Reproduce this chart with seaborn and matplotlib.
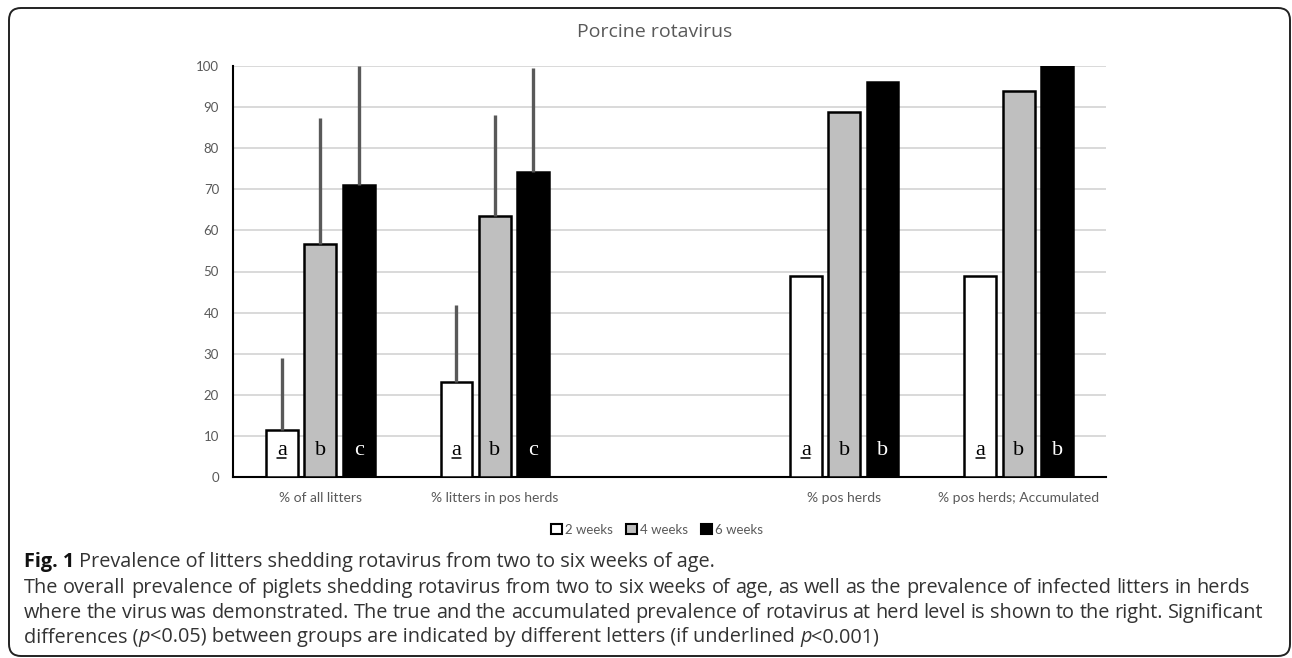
import matplotlib
matplotlib.use("Agg")
import matplotlib.pyplot as plt
import seaborn as sns
import pandas as pd
from matplotlib.patches import FancyBboxPatch, Patch
from matplotlib.lines import Line2D
from matplotlib.transforms import IdentityTransform

# ---------------- data ----------------
categories = ["% of all litters", "% litters in pos herds", " ", "% pos herds", "% pos herds; Accumulated"]
data_cats = ["% of all litters", "% litters in pos herds", "% pos herds", "% pos herds; Accumulated"]
weeks = ["2 weeks", "4 weeks", "6 weeks"]
v2 = [11.5, 23.1, 49.0, 49.0]
v4 = [56.7, 63.6, 88.9, 93.9]
v6 = [71.1, 74.3, 96.1, 100.0]
# upper bounds of the error bars (only the first two categories have them)
ci_cats = ["% of all litters", "% litters in pos herds"]
ci2 = [28.9, 41.8]
ci4 = [87.3, 88.1]
ci6 = [100.0, 99.4]
# significance letters (2-week letters are underlined)
letters2 = ["a", "a", "a", "a"]
letters4 = ["b", "b", "b", "b"]
letters6 = ["c", "c", "b", "b"]
yticks = list(range(0, 101, 10))

title = "Porcine rotavirus"
cap1_bold = "Fig. 1"
cap1 = "Prevalence of litters shedding rotavirus from two to six weeks of age."
cap2 = ("The overall prevalence of piglets shedding rotavirus from two to six weeks of age, "
        "as well as the prevalence of infected litters in herds")
cap3 = ("where the virus was demonstrated. The true and the accumulated prevalence of rotavirus "
        "at herd level is shown to the right. Significant")

# ---------------- build ----------------
W, H = 1292, 658
sns.set_style("white")
plt.rcParams["font.family"] = ["Open Sans", "DejaVu Sans"]

rows = []
for wk, vals in zip(weeks, [v2, v4, v6]):
    for c, v in zip(data_cats, vals):
        rows.append({"category": c, "week": wk, "value": v})
df = pd.DataFrame(rows)

fig = plt.figure(figsize=(W / 100, H / 100), dpi=100)
ax = fig.add_axes([233 / W, 1 - 477 / H, (1106 - 233) / W, (477 - 66) / H])

colors = ["#ffffff", "#bfbfbf", "#000000"]
sns.barplot(data=df, x="category", y="value", hue="week", order=categories,
            hue_order=weeks, palette=colors, edgecolor="black", linewidth=1.8,
            width=0.66, gap=0.17, errorbar=None, legend=False, ax=ax, zorder=3)

ax.set_xlim(-0.5, len(categories) - 0.5)
ax.set_ylim(0, 100)
ax.set_yticks(yticks)
ax.set_xlabel("")
ax.set_ylabel("")
ax.grid(axis="y", color="#d9d9d9", linewidth=1.4, zorder=0)
ax.set_axisbelow(True)
for s in ["top", "right"]:
    ax.spines[s].set_visible(False)
for s in ["left", "bottom"]:
    ax.spines[s].set_color("black")
    ax.spines[s].set_linewidth(1.5)
ax.tick_params(axis="both", length=0, colors="#595959")
ax.tick_params(axis="x", pad=11, labelsize=10)
ax.tick_params(axis="y", pad=10, labelsize=9.5)
for lab in ax.get_xticklabels() + ax.get_yticklabels():
    lab.set_fontfamily(["Lato", "DejaVu Sans"])

# map bars to (hue, category index)
bars = {}
for hi, cont in enumerate(ax.containers):
    for b in cont:
        cx = b.get_x() + b.get_width() / 2
        bars[(hi, int(round(cx)))] = b

# error bars
for hi, cis in enumerate([ci2, ci4, ci6]):
    for c, top in zip(ci_cats, cis):
        b = bars[(hi, categories.index(c))]
        cx = b.get_x() + b.get_width() / 2
        h = b.get_height()
        ax.errorbar([cx], [h], yerr=[[0], [top - h]], fmt="none", ecolor="#595959",
                    elinewidth=2.4, capsize=0, zorder=4, clip_on=False)

# letters
letter_texts = []
for hi, lets in enumerate([letters2, letters4, letters6]):
    for c, L in zip(data_cats, lets):
        b = bars[(hi, categories.index(c))]
        cx = b.get_x() + b.get_width() / 2
        t = ax.text(cx, 5.3, L, ha="center", va="baseline", fontsize=16,
                    family=["Liberation Serif", "DejaVu Serif"],
                    color="white" if hi == 2 else "black", zorder=5)
        if hi == 0:
            letter_texts.append((t, cx))

# title
fig.text(655 / W, 1 - 32 / H, title, ha="center", va="center", fontsize=14, color="#595959")

# legend
handles = [Patch(facecolor=c, edgecolor="black", linewidth=1.5) for c in colors]
leg = fig.legend(handles, weeks, loc="center", bbox_to_anchor=(657 / W, 1 - 530 / H), ncol=3,
                 frameon=False, handlelength=0.8, handleheight=0.8, handletextpad=0.25,
                 columnspacing=1.0, fontsize=9.5)
for t in leg.get_texts():
    t.set_color("#595959")
    t.set_fontfamily(["Lato", "DejaVu Sans"])

# frame
frame = FancyBboxPatch((9, 2), 1281, 648, boxstyle="round,pad=0,rounding_size=12",
                       transform=IdentityTransform(), facecolor="none", edgecolor="#222222",
                       linewidth=1.4)
fig.patches.append(frame)

fig.canvas.draw()
rend = fig.canvas.get_renderer()

# underline the 2-week letters
for t, cx in letter_texts:
    bb = t.get_window_extent(rend)
    base = ax.transData.transform((cx, 5.3))[1]
    fig.lines.append(Line2D([bb.x0 + 0.5, bb.x1 - 0.5], [base - 3, base - 3],
                            transform=IdentityTransform(), color="black", linewidth=1.1))

# caption
CAP_SIZE = 14.3
CAP_COL = "#333333"


def width_of(s, **kw):
    tt = fig.text(0, 0, s, fontsize=CAP_SIZE, **kw)
    w = tt.get_window_extent(rend).width
    tt.remove()
    return w


space_w = width_of("x x") - width_of("xx")


def put(x, ypix, s, **kw):
    tt = fig.text(x / W, 1 - ypix / H, s, fontsize=CAP_SIZE, va="center", ha="left",
                  color=kw.pop("color", CAP_COL), **kw)
    return tt.get_window_extent(rend).width


def runs(items, x0, ypix):
    x = x0
    for it in items:
        if it is None:
            x += space_w
        else:
            s, kw = it
            x += put(x, ypix, s, **kw)


def justified(text, x0, x1, ypix):
    words = text.split(" ")
    ws = [width_of(w) for w in words]
    gap = (x1 - x0 - sum(ws)) / (len(words) - 1)
    x = x0
    for w, wd in zip(words, ws):
        put(x, ypix, w)
        x += wd + gap


X0 = 24
runs([(cap1_bold, {"fontweight": "bold", "color": "#111111"}), None, (cap1, {})], X0, 562)
justified(cap2, X0, 1250, 588)
justified(cap3, X0, 1263, 613)
runs([("differences (", {}), ("p", {"fontstyle": "italic"}),
      ("<0.05) between groups are indicated by different letters (if underlined", {}), None,
      ("p", {"fontstyle": "italic"}), ("<0.001)", {})], X0, 637)

fig.savefig("out.png", dpi=100)
